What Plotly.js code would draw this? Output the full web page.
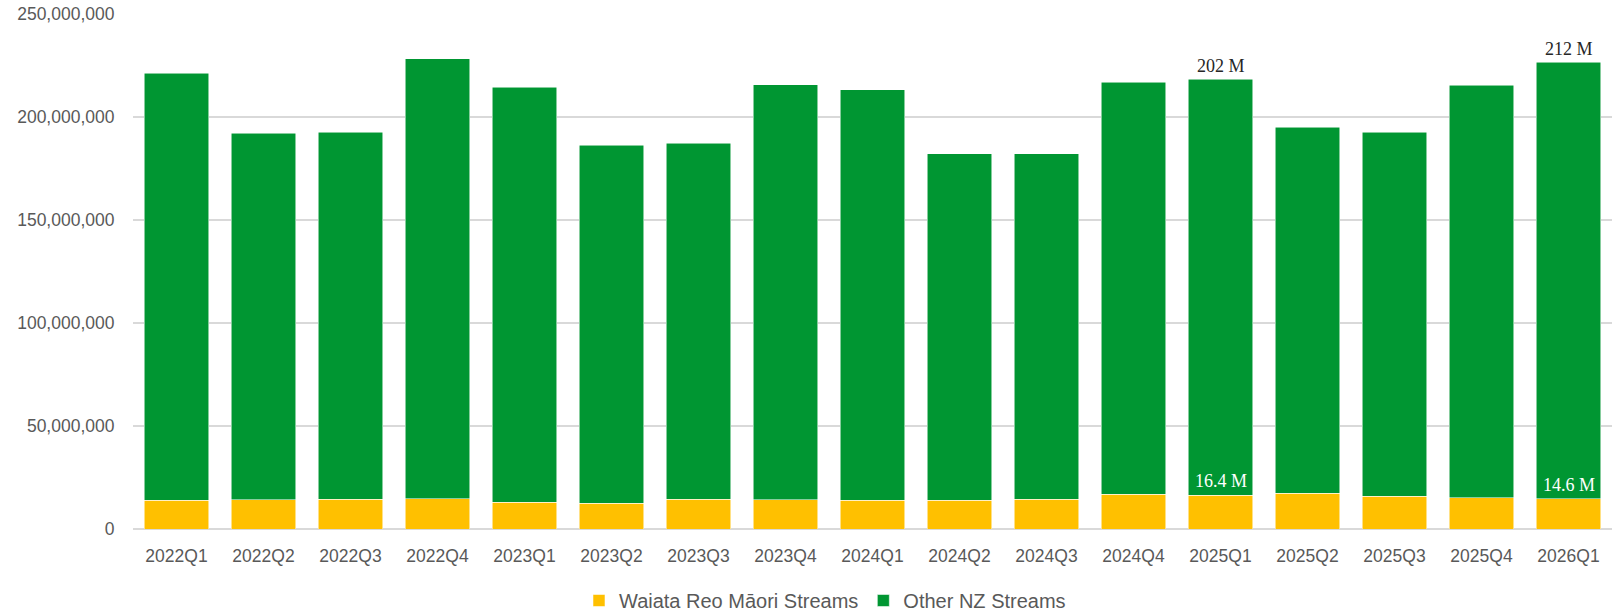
<!DOCTYPE html>
<html>
<head>
<meta charset="utf-8">
<script src="https://cdn.plot.ly/plotly-3.0.1.min.js"></script>
<style>html,body{margin:0;padding:0;background:#fff;}#chart{width:1624px;height:614px;}</style>
</head>
<body>
<div id="chart"></div>
<script>
const quarters = ["2022Q1","2022Q2","2022Q3","2022Q4","2023Q1","2023Q2","2023Q3","2023Q4","2024Q1","2024Q2","2024Q3","2024Q4","2025Q1","2025Q2","2025Q3","2025Q4","2026Q1"];
const waiataReoMaori = [13.9,14.2,14.4,14.7,13.1,12.6,14.4,14.2,13.9,13.9,14.4,16.8,16.4,17.4,15.9,15.2,14.6].map(v => v*1e6);
const otherNZ = [207.3,177.9,178.2,213.6,201.4,173.8,172.8,201.5,199.4,168.2,167.7,200.0,202.0,177.6,176.7,200.2,212.0].map(v => v*1e6);
const labelQuarters = ["2025Q1","2026Q1"];
const otherLabels = ["202 M","212 M"];
const waiataLabels = ["16.4 M","14.6 M"];

const annotations = [];
labelQuarters.forEach((q, k) => {
  const i = quarters.indexOf(q);
  annotations.push({x:q, y:waiataReoMaori[i]+otherNZ[i], text:otherLabels[k], showarrow:false, xref:'x', yref:'y', yanchor:'bottom', yshift:1, font:{family:'Liberation Serif, serif', size:18, color:'#262626'}});
  annotations.push({x:q, y:waiataReoMaori[i], text:waiataLabels[k], showarrow:false, xref:'x', yref:'y', yanchor:'bottom', yshift:2, font:{family:'Liberation Serif, serif', size:18, color:'#ffffff'}});
});

const data = [
  {type:'bar', name:'Waiata Reo Māori Streams', x:quarters, y:waiataReoMaori, marker:{color:'#FFC000', line:{color:'rgba(255,255,255,0.7)', width:0.75}}, hoverinfo:'x+y'},
  {type:'bar', name:'Other NZ Streams', x:quarters, y:otherNZ, marker:{color:'#009632', line:{color:'rgba(255,255,255,0.7)', width:0.75}}, hoverinfo:'x+y'}
];

const layout = {
  width:1624, height:614,
  barmode:'stack', bargap:0.26,
  margin:{l:133, r:12, t:14, b:85},
  paper_bgcolor:'#fff', plot_bgcolor:'#fff',
  font:{family:'Liberation Sans, Arial, sans-serif', color:'#595959'},
  xaxis:{type:'category', tickfont:{size:17.5, color:'#595959'}, ticks:'outside', ticklen:11, tickcolor:'rgba(0,0,0,0)', showgrid:false, showline:false, zeroline:false},
  yaxis:{range:[0,250e6], dtick:50e6, tickformat:',d', tickfont:{size:17.5, color:'#595959'}, ticks:'outside', ticklen:14, tickcolor:'rgba(0,0,0,0)', gridcolor:'#d9d9d9', gridwidth:1.5, zeroline:true, zerolinecolor:'#d9d9d9', zerolinewidth:2, showline:false},
  showlegend:true,
  legend:{orientation:'h', xref:'container', yref:'container', x:0.508, xanchor:'center', y:0.022, yanchor:'middle', font:{size:20, color:'#595959'}, itemwidth:30, traceorder:'normal'},
  annotations:annotations
};

Plotly.newPlot('chart', data, layout, {displayModeBar:false, staticPlot:true});
</script>
</body>
</html>
